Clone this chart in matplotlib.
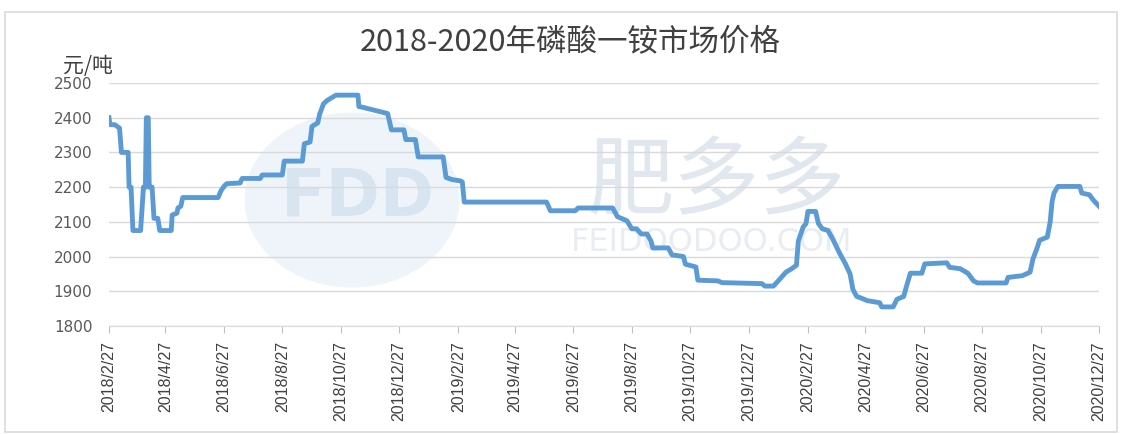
import matplotlib
matplotlib.use('Agg')
import matplotlib.pyplot as plt
import numpy as np
import pandas as pd
from matplotlib.patches import Ellipse, Rectangle

# ---------------- data ----------------
title = '2018-2020年磷酸一铵市场价格'
unit_label = '元/吨'
start_date = '2018-02-27'
days_since_start = [0, 1, 6, 11, 13, 20, 21, 23, 25, 33,
                    36, 38, 39, 41, 42, 45, 47, 51, 53, 65,
                    66, 71, 72, 75, 77, 114, 117, 121, 123, 137,
                    139, 158, 160, 181, 183, 202, 204, 210, 212, 218,
                    220, 224, 228, 234, 237, 260, 261, 265, 291, 295,
                    308, 310, 320, 323, 349, 352, 358, 367, 369, 371,
                    457, 461, 487, 490, 526, 531, 541, 546, 551, 556,
                    562, 566, 568, 584, 588, 600, 602, 613, 615,
                    636, 640, 682, 685, 694, 699, 707, 713, 718, 720,
                    725, 728, 730, 738, 741, 745, 751, 756, 763, 769,
                    774, 777, 781, 786, 792, 805, 807, 819, 823, 830,
                    833, 837, 849, 852, 875, 878, 889, 897, 903, 907,
                    937, 939, 954, 962, 965, 969, 972, 980, 983, 985,
                    987, 991, 1014, 1016, 1024, 1028, 1034]
price = [2400, 2380, 2380, 2370, 2300, 2300, 2200, 2200, 2075, 2075,
         2200, 2200, 2400, 2400, 2200, 2200, 2110, 2110, 2075, 2075,
         2120, 2125, 2140, 2145, 2170, 2170, 2190, 2205, 2210, 2212,
         2225, 2225, 2235, 2235, 2275, 2275, 2325, 2330, 2375, 2385,
         2410, 2440, 2450, 2460, 2465, 2465, 2432, 2430, 2412, 2365,
         2365, 2337, 2337, 2287, 2287, 2228, 2222, 2218, 2215, 2157,
         2157, 2132, 2132, 2140, 2140, 2115, 2103, 2080, 2080, 2065,
         2065, 2045, 2025, 2025, 2005, 2000, 1978, 1970, 1932,
         1930, 1925, 1922, 1915, 1915, 1930, 1955, 1965, 1975, 2045,
         2085, 2095, 2130, 2130, 2095, 2080, 2075, 2050, 2010, 1980,
         1950, 1905, 1885, 1880, 1873, 1867, 1855, 1855, 1877, 1885,
         1915, 1952, 1952, 1979, 1982, 1969, 1965, 1952, 1930, 1924,
         1924, 1940, 1945, 1955, 1993, 2022, 2047, 2056, 2100, 2158,
         2183, 2202, 2202, 2183, 2178, 2163, 2145]
x_tick_labels = ['2018/2/27', '2018/4/27', '2018/6/27', '2018/8/27', '2018/10/27',
                 '2018/12/27', '2019/2/27', '2019/4/27', '2019/6/27', '2019/8/27',
                 '2019/10/27', '2019/12/27', '2020/2/27', '2020/4/27', '2020/6/27',
                 '2020/8/27', '2020/10/27', '2020/12/27']
y_ticks = [1800, 1900, 2000, 2100, 2200, 2300, 2400, 2500]

# ---------------- figure ----------------
CJK = ['Noto Sans CJK SC', 'DejaVu Sans']
W, H = 1123, 434
fig = plt.figure(figsize=(W / 100, H / 100), dpi=100)

def fx(px):
    return px / W

def fy(py):
    return 1 - py / H

# outer border
fig.add_artist(Rectangle((fx(5), fy(432)), fx(1117) - fx(5), fy(12) - fy(432),
                         transform=fig.transFigure, fill=False,
                         edgecolor='#d9d9d9', lw=1.2, zorder=-2))

# watermark (behind the axes content)
fig.add_artist(Ellipse((fx(352), fy(200)), fx(215), 175 / H, transform=fig.transFigure,
                       facecolor='#eef4fa', edgecolor='none', zorder=-2))
fig.text(fx(357), fy(197), 'FDD', ha='center', va='center', fontsize=47,
         fontweight='bold', color='#d8e5f1', family='DejaVu Sans', zorder=-1)
fig.text(fx(717), fy(184), '肥多多', ha='center', va='center', fontsize=62,
         color='#e0e7ef', family=CJK, zorder=-1)
fig.text(fx(712), fy(243), 'FEIDOODOO.COM', ha='center', va='center', fontsize=23,
         color='#e8edf3', family='DejaVu Sans', zorder=-1)

ax = fig.add_axes([fx(109), fy(326), fx(1099) - fx(109), fy(83) - fy(326)])
ax.set_facecolor('none')
ax.set_zorder(1)

dates = np.datetime64(start_date) + np.array(days_since_start).astype('timedelta64[D]')
tick_dates = pd.to_datetime(x_tick_labels, format='%Y/%m/%d')

ax.plot(dates, price, color='#5b9bd5', lw=3.5, solid_joinstyle='round', zorder=3)

ax.set_ylim(y_ticks[0], y_ticks[-1])
ax.set_yticks(y_ticks)
ax.set_xlim(tick_dates[0], tick_dates[-1])
ax.set_xticks(tick_dates)
ax.set_xticklabels(x_tick_labels, rotation=90, fontsize=11.5,
                   family='Liberation Sans', color='#404040')
ax.grid(axis='y', color='#d9d9d9', lw=1)
ax.set_axisbelow(True)
for s in ['top', 'right', 'left']:
    ax.spines[s].set_visible(False)
ax.spines['bottom'].set_color('#d9d9d9')
ax.tick_params(axis='y', length=0, pad=12, labelsize=11, labelcolor='#595959')
ax.tick_params(axis='x', length=5, color='#bfbfbf', direction='out', pad=6)

fig.text(fx(570), fy(42), title, ha='center', va='center', fontsize=22,
         color='#404040', family=CJK)
fig.text(fx(88), fy(66), unit_label, ha='center', va='center', fontsize=15,
         color='#404040', family=CJK)

fig.savefig('out.png', dpi=100)
